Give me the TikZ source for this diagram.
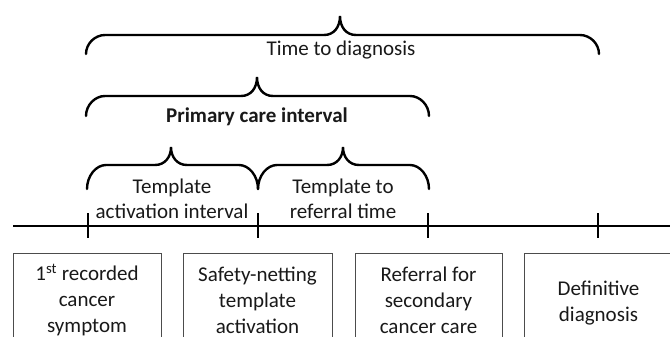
\documentclass[tikz,border=0pt]{standalone}
\usepackage{fontspec}
\setmainfont{Carlito}
\newcommand\drawcurly[6]{%
  \draw[bracepath] (#1,#6) .. controls (#1,{#5+0.45*(#6-#5)}) and ({#1+9},#5) .. ({#1+19},#5)
    -- ({#3-16},#5) .. controls ({#3-6},#5) and (#3,{#5-8}) .. (#3,#4)
    .. controls (#3,{#5-8}) and ({#3+6},#5) .. ({#3+16},#5)
    -- ({#2-19},#5) .. controls ({#2-9},#5) and (#2,{#5+0.45*(#6-#5)}) .. (#2,#6);}
\begin{document}
\begin{tikzpicture}[x=1pt,y=-1pt,
  bracepath/.style={line width=2.4pt, line cap=round},
  tline/.style={line width=2.5pt},
  lbl/.style={font=\fontsize{21}{25}\selectfont, align=center, inner sep=0pt, text=black!90},
  lblb/.style={font=\fontsize{21}{25}\selectfont\bfseries, align=center, inner sep=0pt, text=black!90},
  evbox/.style={draw=black!70, line width=1pt, minimum width=148pt, minimum height=94pt,
    font=\fontsize{21}{26}\selectfont, align=center, inner sep=0pt, text=black!90}]
\path[use as bounding box, clip] (0,0) rectangle (670,337);
\fill[white] (0,0) rectangle (670,337);
% timeline
\coordinate (tl0) at (13,226);
\coordinate (tl1) at (672,226);
\coordinate (t1) at (88,226);
\coordinate (t2) at (258,226);
\coordinate (t3) at (428,226);
\coordinate (t4) at (598,226);
\draw[tline] (tl0) -- (tl1);
\foreach \t in {t1,t2,t3,t4} \draw[tline] (\t) ++(0,-13) -- ++(0,25);
% braces
\drawcurly{86}{599}{340}{16}{35}{54}
\drawcurly{86}{429}{257}{77}{96}{116}
\drawcurly{87}{258}{171}{147}{165}{189}
\drawcurly{258}{429}{343}{147}{165}{189}
% labels
\node[lbl, anchor=base] (ttd) at (341,56) {Time to diagnosis};
\node[lblb, anchor=base] (pci) at (257,122) {Primary care interval};
\node[lbl] (tai) at (172,199) {Template\\activation interval};
\node[lbl] (trt) at (343,199) {Template to\\referral time};
% event boxes
\node[evbox] (e1) at (87,300) {1\textsuperscript{st} recorded\\cancer\\symptom};
\node[evbox, minimum width=149pt] (e2) at (257.5,300) {Safety-netting\\template\\activation};
\node[evbox, minimum width=147pt] (e3) at (428.5,300) {Referral for\\secondary\\cancer care};
\node[evbox, minimum height=100pt] (e4) at (598.5,303) {Definitive\\diagnosis};
\end{tikzpicture}
\end{document}
